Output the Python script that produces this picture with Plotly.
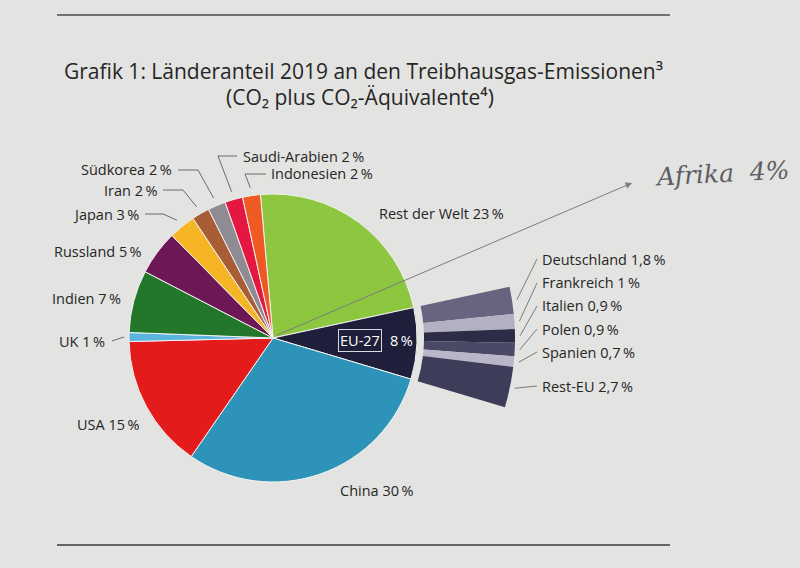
import math
import plotly.graph_objects as go

# ---------------- data ----------------
countries = ["Rest der Welt", "EU-27", "China", "USA", "UK", "Indien", "Russland",
             "Japan", "Iran", "Südkorea", "Saudi-Arabien", "Indonesien"]
shares = [23, 8, 30, 15, 1, 7, 5, 3, 2, 2, 2, 2]
country_labels = ["Rest der Welt 23\u2009%", "EU-27", "China 30\u2009%", "USA 15\u2009%",
                  "UK 1\u2009%", "Indien 7\u2009%", "Russland 5\u2009%", "Japan 3\u2009%",
                  "Iran 2\u2009%", "Südkorea 2\u2009%", "Saudi-Arabien 2\u2009%", "Indonesien 2\u2009%"]
colors = ["#8dc63f", "#1f1f3b", "#2e93b8", "#e31b1b", "#5ab4dd", "#23772a", "#6d1757",
          "#f5b525", "#a95d34", "#8e8c92", "#e3173f", "#ee5a22"]

eu_members = ["Deutschland", "Frankreich", "Italien", "Polen", "Spanien", "Rest-EU"]
eu_shares = [1.8, 1.0, 0.9, 0.9, 0.7, 2.7]
eu_labels = ["Deutschland 1,8\u2009%", "Frankreich 1\u2009%", "Italien 0,9\u2009%",
             "Polen 0,9\u2009%", "Spanien 0,7\u2009%", "Rest-EU 2,7\u2009%"]
eu_colors = ["#67647f", "#b3b0c4", "#2d2c47", "#4a4966", "#b9b6c9", "#3d3c59"]

# ---------------- geometry (layout) ----------------
W, H = 800, 568
CX, CY, R = 273, 338, 144          # pie centre / radius in pixels
ROT = -5                            # start angle of first slice (clockwise from top)
BAND_IN, BAND_OUT = 151, 242        # radii of the EU breakdown band (pixels)
POLAR_R = 250                       # pixel radius of polar subplot


def px(x):
    return x / W


def py(y):
    return 1 - y / H


total = sum(shares)


def slice_mid_cw(name):
    i = countries.index(name)
    before = sum(shares[:i])
    return ROT + 360 * (before + shares[i] / 2) / total


def edge_point(angle_cw, r):
    a = math.radians(angle_cw)
    return CX + r * math.sin(a), CY - r * math.cos(a)


fig = go.Figure()

fig.add_trace(go.Pie(
    labels=countries, values=shares, sort=False, direction="clockwise",
    rotation=ROT, textinfo="none", hoverinfo="label+percent",
    marker=dict(colors=colors, line=dict(color="#f2f2f2", width=1)),
    domain=dict(x=[px(CX - R), px(CX + R)], y=[py(CY + R), py(CY - R)]),
    showlegend=False,
))

# EU breakdown band as stacked angular bars in a polar subplot
eu_idx = countries.index("EU-27")
eu_start_screen = 90 - (ROT + 360 * sum(shares[:eu_idx]) / total)  # CCW from 3 o'clock
cum = 0.0
eu_mid_screen = []
for name, v, c in zip(eu_members, eu_shares, eu_colors):
    w = 360 * v / total
    mid = eu_start_screen - 360 * cum / total - w / 2
    eu_mid_screen.append(mid)
    fig.add_trace(go.Barpolar(
        r=[BAND_OUT - BAND_IN], base=[BAND_IN], theta=[mid], width=[w],
        marker=dict(color=c, line=dict(width=0)), name=name, showlegend=False,
        hoverinfo="name",
    ))
    cum += v

half = POLAR_R * math.sin(math.radians(20))
fig.update_layout(polar=dict(
    domain=dict(x=[px(CX), px(CX + POLAR_R)], y=[py(CY + half), py(CY - half)]),
    sector=[-20, 20], hole=0, bgcolor="rgba(0,0,0,0)",
    radialaxis=dict(range=[0, POLAR_R], visible=False, showgrid=False),
    angularaxis=dict(visible=False, showgrid=False, direction="counterclockwise", rotation=0),
))

# ---------------- text ----------------
FONT = "Open Sans"
TXT = "#262626"
LSIZE = 14.5
ann = []


def label(text, x, y, anchor, size=LSIZE, color=TXT, **kw):
    ann.append(dict(text=text, x=px(x), y=py(y), xref="paper", yref="paper",
                    xanchor=anchor, yanchor="middle", showarrow=False,
                    font=dict(family=FONT, size=size, color=color), **kw))


label("Grafik 1: Länderanteil 2019 an den Treibhausgas-Emissionen\u00b3", 363, 71, "center", size=21)
label("(CO\u2082 plus CO\u2082-Äquivalente\u2074)", 360, 97, "center", size=21)

label_pos = {
    "Rest der Welt": (377, 213, "left"),
    "China": (338, 490, "left"),
    "USA": (141, 424, "right"),
    "UK": (107, 341, "right"),
    "Indien": (123, 298, "right"),
    "Russland": (144, 251, "right"),
    "Japan": (141, 214, "right"),
    "Iran": (159, 190, "right"),
    "Südkorea": (174, 170, "right"),
    "Saudi-Arabien": (241, 156, "left"),
    "Indonesien": (269, 174, "left"),
}
for name, text in zip(countries, country_labels):
    if name in label_pos:
        x, y, a = label_pos[name]
        label(text, x, y, a)

# EU-27 label inside its slice
label("EU-27", 360, 340, "center", color="#ffffff", bordercolor="#d8d8e0", borderwidth=1, borderpad=1)
label("8\u2009%", 401, 340, "center", color="#ffffff")

eu_label_y = [259, 283, 306, 329, 352, 386]
for text, y in zip(eu_labels, eu_label_y):
    label(text, 540, y, "left")

# handwritten note
ann.append(dict(text="Afrika  4%", x=px(722), y=py(173), xref="paper", yref="paper",
                xanchor="center", yanchor="middle", showarrow=False, textangle=-3,
                font=dict(family="DejaVu Serif", size=25, color="#5e5e66", style="italic")))
HEAD_X, HEAD_Y = 632, 183
ann.append(dict(text=" ", x=px(HEAD_X), y=py(HEAD_Y), xref="paper", yref="paper",
                ax=(CX + 2) - HEAD_X, ay=(CY - 2) - HEAD_Y, axref="pixel", ayref="pixel",
                showarrow=True, arrowhead=2, arrowsize=1.3, arrowwidth=1,
                arrowcolor="#7c7c82", standoff=0, startstandoff=0,
                font=dict(size=1)))

# ---------------- leader lines ----------------
shapes = []
LC = "#6a6a6a"


def poly(points, color=LC, width=1):
    d = "M " + " L ".join(f"{px(x):.5f},{py(y):.5f}" for x, y in points)
    shapes.append(dict(type="path", path=d, xref="paper", yref="paper",
                       line=dict(color=color, width=width)))


elbows = {
    "Indonesien": [(245, 174), (266, 174)],
    "Saudi-Arabien": [(218, 156), (237, 156)],
    "Südkorea": [(198, 170), (178, 170)],
    "Iran": [(183, 190), (163, 190)],
    "Japan": [(163, 214), (145, 214)],
    "UK": [(112, 341)],
}
for name, pts in elbows.items():
    r_end = 149 if name == "UK" else 152
    start = edge_point(slice_mid_cw(name), r_end)
    poly([start] + pts)

for mid, y in zip(eu_mid_screen, eu_label_y):
    a = math.radians(mid)
    sx, sy = CX + (BAND_OUT + 5) * math.cos(a), CY - (BAND_OUT + 5) * math.sin(a)
    poly([(sx, sy), (537, y)], color="#7a7a7a")

# page rules
shapes.append(dict(type="line", xref="paper", yref="paper", x0=px(57), x1=px(670),
                   y0=py(15), y1=py(15), line=dict(color="#4a4a4a", width=1.5)))
shapes.append(dict(type="line", xref="paper", yref="paper", x0=px(57), x1=px(670),
                   y0=py(545), y1=py(545), line=dict(color="#3a3a3a", width=1.5)))

BG = "#e3e3e1"
fig.update_layout(
    width=W, height=H, margin=dict(l=0, r=0, t=0, b=0),
    paper_bgcolor=BG, plot_bgcolor=BG,
    annotations=ann, shapes=shapes, showlegend=False,
)

fig.write_html(
    "out.html",
    config={"displayModeBar": False},
    post_script=f"document.body.style.margin='0';document.body.style.padding='0';"
                f"document.body.style.background='{BG}';",
)
